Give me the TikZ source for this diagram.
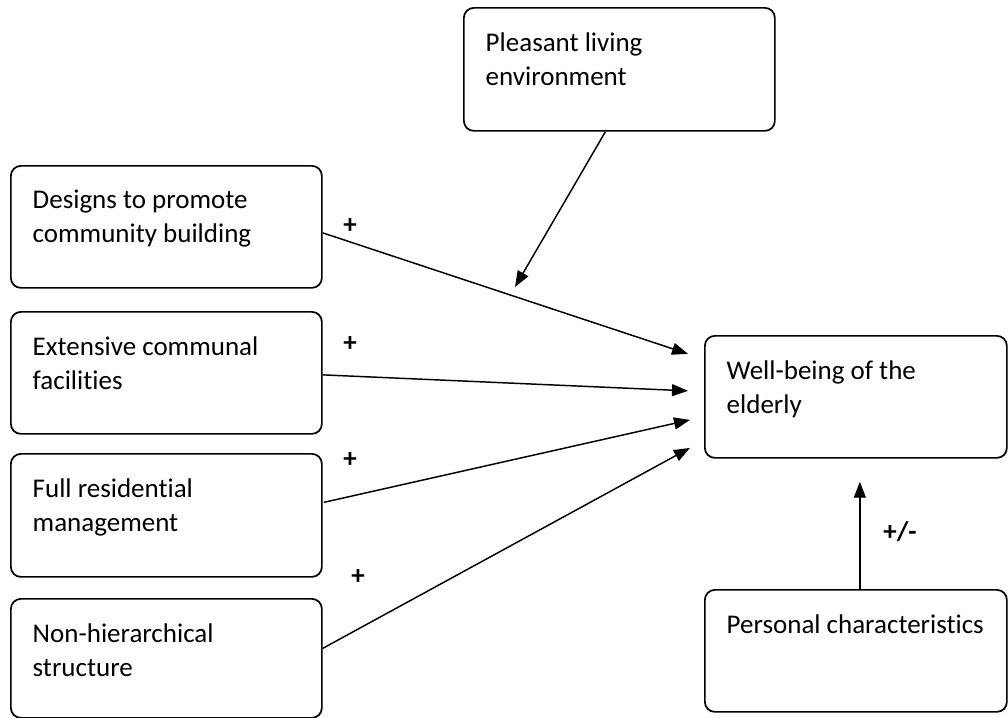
\documentclass[tikz,border=0pt]{standalone}
\usepackage{fontspec}
\setmainfont{Carlito}[Ligatures=NoCommon]
\usetikzlibrary{arrows.meta, positioning}

\begin{document}
\begin{tikzpicture}[x=0.75pt, y=-0.75pt, >={Triangle[length=12pt, width=9pt]}, line width=1.1pt,
    label distance=0pt,
    factor/.style={draw, rounded corners=7.5pt, line width=1.3pt, anchor=north west, inner sep=0pt,
        minimum width=233.25pt, minimum height=91.5pt},
    txt/.style={anchor=north west, align=left, inner sep=0pt, xshift=16.5pt, yshift=-18.5pt,
        font=\fontsize{20.25pt}{25.5pt}\selectfont},
    sign/.style={font=\fontsize{20.25pt}{24pt}\selectfont\bfseries}]
    \useasboundingbox (0,0) rectangle (1008,718);

    % Boxes
    \node[factor, minimum height=92.25pt, label={[txt]north west:Pleasant living\\environment}] (living) at (463,7) {};
    \node[factor, label={[txt]north west:Designs to promote\\community building}] (design) at (10,165) {};
    \node[factor, label={[txt]north west:Extensive communal\\facilities}] (communal) at (10,311) {};
    \node[factor, minimum height=92.25pt, label={[txt]north west:Full residential\\management}] (management) at (10,453) {};
    \node[factor, minimum height=89.25pt, label={[txt]north west:Non-hierarchical\\structure}] (structure) at (10,598) {};
    \node[factor, minimum width=226.5pt, label={[txt]north west:Well-being of the\\elderly}] (wellbeing) at (704,335) {};
    \node[factor, minimum width=226.5pt, label={[txt]north west:Personal characteristics}] (personal) at (704,589) {};

    % Signs
    \node[sign] (s1) at (350,226) {+};
    \node[sign] (s2) at (350,344) {+};
    \node[sign] (s3) at (350,460) {+};
    \node[sign] (s4) at (358,577) {+};
    \node[sign] (s5) at (900,532) {+/-};

    % Edges
    \coordinate (moderate) at (515,287);
    \draw[->] ([shift={(0,6)}]design.east) -- ([shift={(-16,-43)}]wellbeing.west);
    \draw[->] ([shift={(0,2)}]communal.east) -- ([shift={(-16,-6)}]wellbeing.west);
    \draw[->] ([shift={(1,-13)}]management.east) -- ([shift={(-14,23)}]wellbeing.west);
    \draw[->] ([shift={(0,-10)}]structure.east) -- ([shift={(-14,51)}]wellbeing.west);
    \draw[->] ([shift={(-14,0)}]living.south) -- (moderate);
    \draw[->] ([shift={(4,0)}]personal.north) -- ([shift={(4,23)}]wellbeing.south);
\end{tikzpicture}
\end{document}
